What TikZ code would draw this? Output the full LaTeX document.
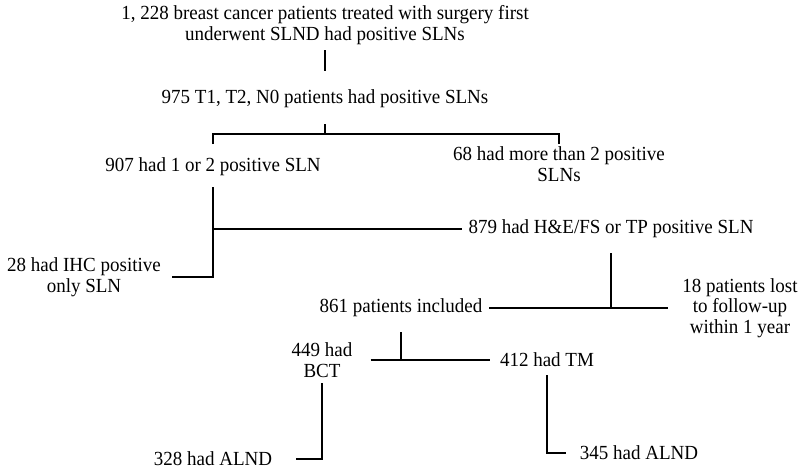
\documentclass[tikz,border=0pt]{standalone}
\usepackage{fontspec}
\setmainfont[FakeStretch=0.95]{Liberation Serif}
\begin{document}
\begin{tikzpicture}[x=1pt,y=-1pt,
  txt/.style={font=\fontsize{20}{20.5}\selectfont, align=center, inner sep=0pt},
  ln/.style={line width=1.3pt, black}]
\useasboundingbox (0,0) rectangle (800,475);
% nodes
\node[txt] (t1) at (325,25) {1, 228 breast cancer patients treated with surgery first\\underwent SLND had positive SLNs};
\node[txt] (n975) at (325,99) {975 T1, T2, N0 patients had positive SLNs};
\node[txt] (n907) at (213,167) {907 had 1 or 2 positive SLN};
\node[txt] (n68) at (559,164) {68 had more than 2 positive\\SLNs};
\node[txt] (n879) at (611,229) {879 had H\&E/FS or TP positive SLN};
\node[txt] (n28) at (84,277) {28 had IHC positive\\only SLN};
\node[txt] (n861) at (401,308) {861 patients included};
\node[txt] (n18) at (740,308) {18 patients lost\\to follow-up\\within 1 year};
\node[txt] (n449) at (322,360) {449 had\\BCT};
\node[txt] (n412) at (547,360) {412 had TM};
\node[txt] (n328) at (213,459) {328 had ALND};
\node[txt] (n345) at (639,453) {345 had ALND};
% junctions
\coordinate (j1) at (n975.south |- 0,134);
\coordinate (j2) at (n907.south |- n879);
\coordinate (j3) at (n879.south |- n861);
% connectors
\draw[ln] (t1.south |- 0,50) -- (n975.north |- 0,71);
\draw[ln] (n975.south |- 0,124) -- (j1);
\draw[ln] (n907.north |- 0,144) -- (n907.north |- j1) -- (n68.north |- j1) -- (n68.north |- 0,144);
\draw[ln] (n907.south |- 0,187) -- (n907.south |- n28) -- ([xshift=11pt]n28.east);
\draw[ln] (j2) -- ([xshift=-6pt]n879.west);
\draw[ln] (n879.south |- 0,253) -- (j3);
\draw[ln] ([xshift=7pt]n861.east) -- ([xshift=-14pt]n18.west);
\draw[ln] (n861.south |- 0,332) -- (n861.south |- n449);
\draw[ln] ([xshift=18pt]n449.east) -- ([xshift=-10pt]n412.west);
\draw[ln] (n449.south |- 0,383) -- (n449.south |- n328) -- ([xshift=24pt]n328.east);
\draw[ln] (n412.south |- 0,375) -- (n412.south |- n345) -- ([xshift=-14pt]n345.west);
\end{tikzpicture}
\end{document}
